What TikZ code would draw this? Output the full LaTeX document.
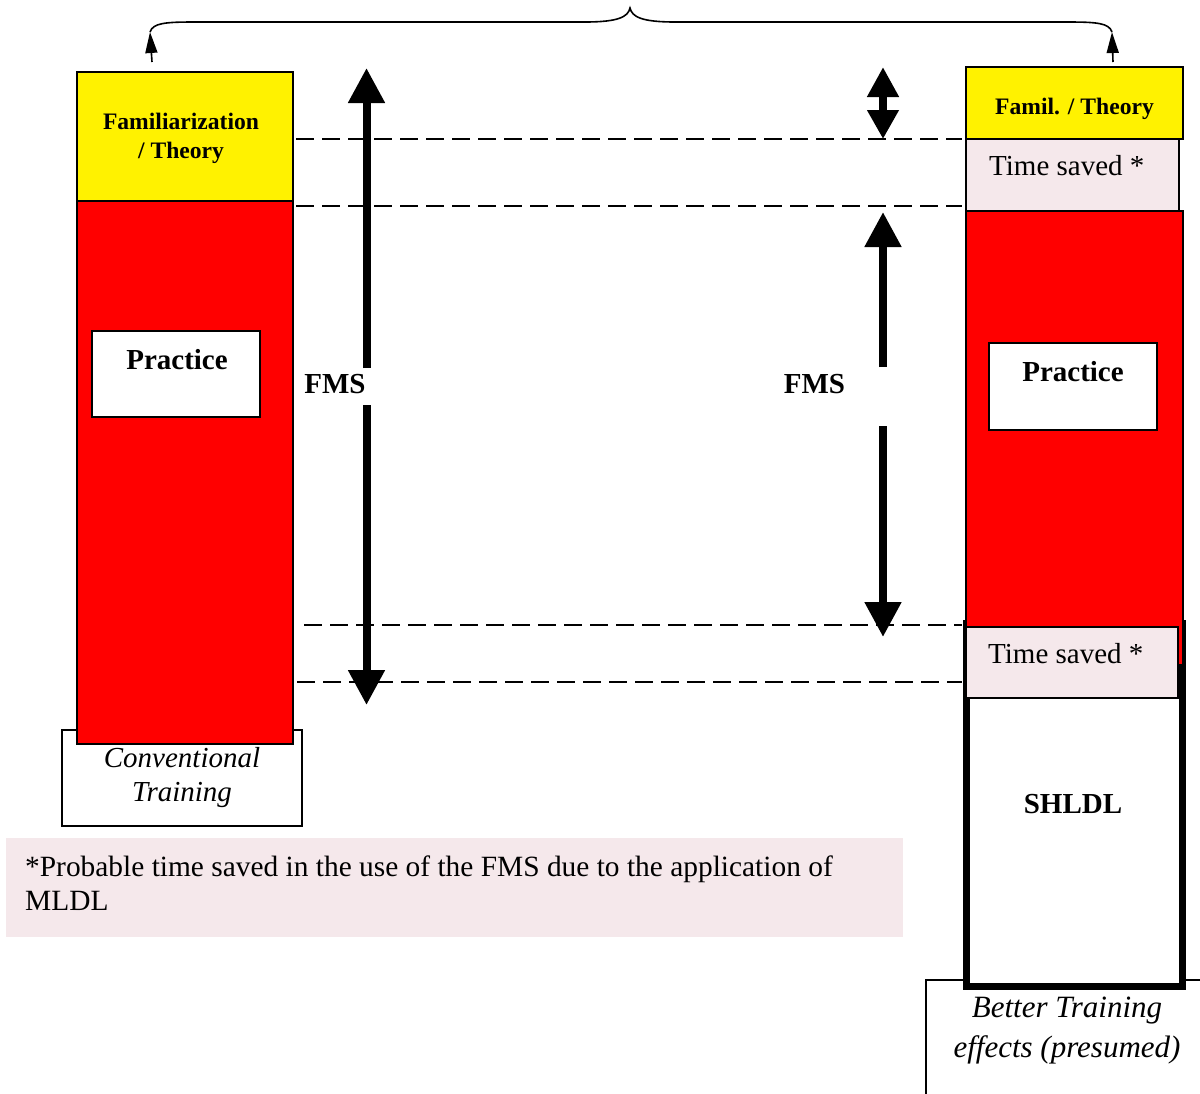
\documentclass[tikz,border=0pt]{standalone}
\usepackage{fontspec}
\setmainfont{Liberation Serif}
\usetikzlibrary{arrows.meta}
\definecolor{savedpink}{RGB}{245,232,235}
\begin{document}
\begin{tikzpicture}[x=1pt,y=-1pt,
  box/.style={draw=black, line width=1.6pt, inner sep=0pt, outer sep=0pt},
  bigtxt/.style={font=\fontsize{29}{34}\selectfont, inner sep=0pt},
  notetxt/.style={font=\fontsize{29.4}{34}\selectfont, inner sep=0pt},
  boldtxt/.style={font=\fontsize{29}{34}\selectfont\bfseries, inner sep=0pt},
  smallbold/.style={font=\fontsize{23.6}{29}\selectfont\bfseries, inner sep=0pt, align=center},
  bigarrow/.style={line width=8pt, -{Triangle[width=35pt,length=35pt]}},
  guide/.style={line width=1.5pt, dash pattern=on 18pt off 8pt},
  thin/.style={line width=1.6pt}
]
\useasboundingbox (0,0) rectangle (1200,1093);

% ---------- left column: conventional training ----------
\node[box, fill=white, minimum width=240, minimum height=96] (convbox) at (182,778) {};
\node[box, fill=red, minimum width=216, minimum height=543] (practL) at (185,472.5) {};
\node[box, fill=yellow, minimum width=216, minimum height=129] (famL) at (185,136.5) {};
\node[box, fill=white, minimum width=168, minimum height=86] (prboxL) at (176,374) {};
\node[boldtxt, anchor=base] (prtxtL) at (177,369.5) {Practice};
\node[smallbold] (famtxtL) at (181,138.5) {Familiarization\\/ Theory};
\node[font=\fontsize{29}{34}\selectfont\itshape, inner sep=0pt, align=center] (convtxt) at (182,778) {Conventional\\Training};

% ---------- right column: training with SHLDL ----------
\draw[thin] (926,1100) -- (926,980) -- (1205,980);
\node[draw=black, fill=white, line width=7pt, inner sep=0pt, outer sep=0pt,
      minimum width=216, minimum height=363] (shldlbox) at (1074.5,804.5) {};
\node[box, fill=red, minimum width=217, minimum height=454] (practR) at (1074.5,438) {};
\node[box, fill=white, minimum width=168, minimum height=87] (prboxR) at (1073,386.5) {};
\node[boldtxt, anchor=base] (prtxtR) at (1073,381.5) {Practice};
\node[box, fill=savedpink, minimum width=212, minimum height=71] (savedB) at (1072,662.5) {};
\node[bigtxt, anchor=base west] (savedBtxt) at (988,663) {Time saved *};
\node[box, fill=yellow, minimum width=217, minimum height=72] (famR) at (1074.5,103) {};
\node[smallbold, anchor=base] (famtxtR) at (1074.5,114) {Famil. / Theory};
\node[box, fill=savedpink, minimum width=213, minimum height=72] (savedT) at (1072.5,175) {};
\node[bigtxt, anchor=base west] (savedTtxt) at (989,175.5) {Time saved *};
\node[boldtxt, anchor=base] (shldltxt) at (1073,813) {SHLDL};
\node[font=\fontsize{31}{40}\selectfont\itshape, inner sep=0pt, align=center] (bettertxt) at (1067,1031) {Better Training\\effects (presumed)};

% ---------- footnote ----------
\node[fill=savedpink, inner sep=0pt, minimum width=897, minimum height=99] (notebox) at (454.5,887.5) {};
\node[notetxt, anchor=base west] (note1) at (25,876) {*Probable time saved in the use of the FMS due to the application of};
\node[notetxt, anchor=base west] (note2) at (25,910) {MLDL};

% ---------- dashed guide lines ----------
\coordinate (g1a) at (296,139); \coordinate (g1b) at (962,139);
\coordinate (g2a) at (296,206); \coordinate (g2b) at (962,206);
\coordinate (g3a) at (304,625); \coordinate (g3b) at (962,625);
\coordinate (g4a) at (297,682); \coordinate (g4b) at (962,682);
\draw[guide] (g1a) -- (g1b);
\draw[guide] (g2a) -- (g2b);
\draw[guide] (g3a) -- (g3b);
\draw[guide] (g4a) -- (g4b);

% ---------- FMS arrows ----------
\coordinate (lTop) at (366.5,68);  \coordinate (lGapT) at (366.5,368);
\coordinate (lBot) at (366.5,705); \coordinate (lGapB) at (366.5,405);
\draw[bigarrow] (lGapT) -- (lTop);
\draw[bigarrow] (lGapB) -- (lBot);
\node[boldtxt, anchor=base] (fmsL) at (335,393.5) {FMS};

\coordinate (rTop) at (883,212);  \coordinate (rGapT) at (883,367);
\coordinate (rBot) at (883,637);  \coordinate (rGapB) at (883,426);
\draw[bigarrow] (rGapT) -- (rTop);
\draw[bigarrow] (rGapB) -- (rBot);
\node[boldtxt, anchor=base] (fmsR) at (814.5,393.5) {FMS};

\coordinate (sTop) at (883,67); \coordinate (sBot) at (883,139);
\draw[line width=8pt, {Triangle[width=30pt,length=30pt]}-{Triangle[width=30pt,length=29pt]}] (sTop) -- (sBot);

% ---------- brace joining both columns ----------
\coordinate (bL) at (150,32); \coordinate (bR) at (1112,32);
\coordinate (aL) at (152,62); \coordinate (aR) at (1113,62);
\draw[thin] (bL) .. controls (153,23) and (165,22) .. (195,22) -- (585,22)
  .. controls (618,22) and (628,17) .. (630,8)
  .. controls (632,17) and (642,22) .. (675,22) -- (1067,22)
  .. controls (1097,22) and (1109,23) .. (bR);
\draw[thin, -{Triangle[width=12pt,length=21pt]}] (aL) -- (bL);
\draw[thin, -{Triangle[width=12pt,length=21pt]}] (aR) -- (bR);
\end{tikzpicture}
\end{document}
